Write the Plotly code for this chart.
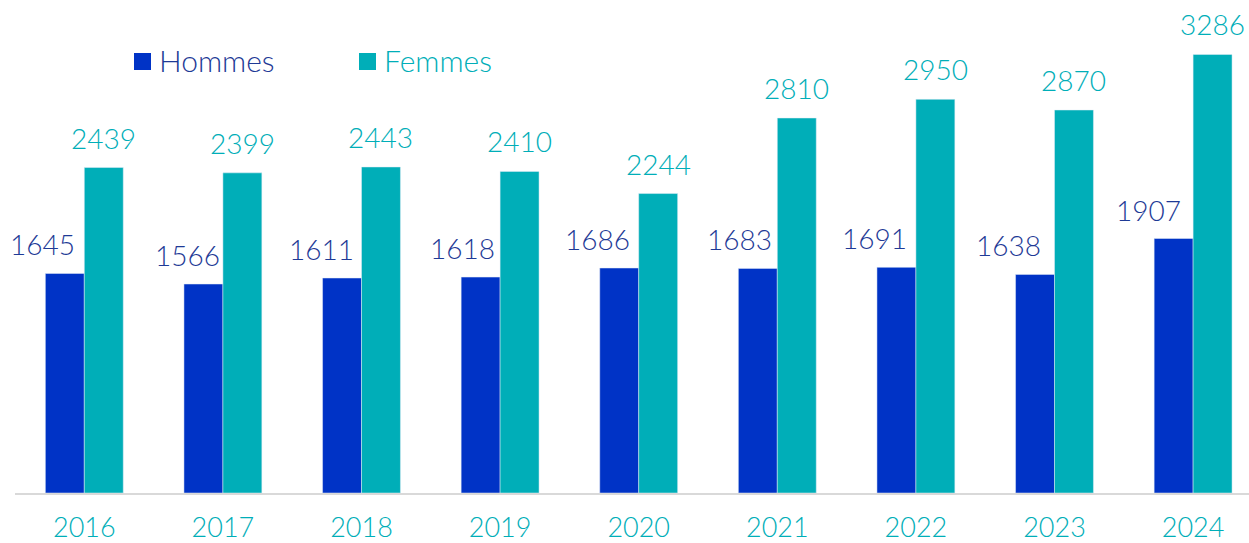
import plotly.graph_objects as go

# ---- data ----
years = ["2016", "2017", "2018", "2019", "2020", "2021", "2022", "2023", "2024"]
hommes = [1645, 1566, 1611, 1618, 1686, 1683, 1691, 1638, 1907]
femmes = [2439, 2399, 2443, 2410, 2244, 2810, 2950, 2870, 3286]

# ---- style ----
C_H = "#0033C6"
C_F = "#00AEB8"
C_H_TXT = "#1E3A96"
FONT = "Lato"
WEIGHT = 300
BAR_W = 0.281
H_LABEL_XSHIFT = [-22, -15.5, -21, -18, -22, -18.5, -21.5, -26.5, -25.5]

W, H = 1249, 543
ML, MR, MT, MB = 15, 0, 0, 50
PW, PH = W - ML - MR, H - MT - MB

xs = list(range(len(years)))

fig = go.Figure()
fig.add_trace(go.Bar(x=xs, y=hommes, name="Hommes", marker_color=C_H,
                     width=BAR_W, offset=-BAR_W, showlegend=False, hoverinfo="skip"))
fig.add_trace(go.Bar(x=xs, y=femmes, name="Femmes", marker_color=C_F,
                     width=BAR_W, offset=0, showlegend=False, hoverinfo="skip"))

ann = []
for i, v in enumerate(hommes):
    ann.append(dict(x=i - BAR_W / 2, y=v, xref="x", yref="y", text=str(v),
                    showarrow=False, xshift=H_LABEL_XSHIFT[i], yshift=29,
                    yanchor="middle",
                    font=dict(family=FONT, size=28, color=C_H_TXT, weight=WEIGHT)))
for i, v in enumerate(femmes):
    ann.append(dict(x=i + BAR_W / 2, y=v, xref="x", yref="y", text=str(v),
                    showarrow=False, yshift=30, yanchor="middle",
                    font=dict(family=FONT, size=28, color=C_F, weight=WEIGHT)))

# manual legend (pixel positions converted to paper coords)
def px(xp):
    return (xp - ML) / PW
def py(yp):
    return 1 - (yp - MT) / PH

shapes = []
legend_items = [("Hommes", C_H, C_H_TXT, 134), ("Femmes", C_F, C_F, 359)]
for name, col, tcol, x0 in legend_items:
    shapes.append(dict(type="rect", xref="paper", yref="paper",
                       x0=px(x0), x1=px(x0 + 17), y0=py(70), y1=py(53),
                       fillcolor=col, line=dict(width=0)))
    ann.append(dict(x=px(x0 + 23), y=py(60), xref="paper", yref="paper",
                    text=name, showarrow=False, xanchor="left", yanchor="middle",
                    font=dict(family=FONT, size=30, color=tcol, weight=WEIGHT)))

fig.update_layout(
    width=W, height=H,
    margin=dict(l=ML, r=MR, t=MT, b=MB),
    paper_bgcolor="white", plot_bgcolor="white",
    barmode="overlay",
    annotations=ann, shapes=shapes,
    xaxis=dict(range=[-0.5, -0.5 + PW / 138.6], tickvals=xs, ticktext=years,
               showgrid=False, zeroline=False, showline=True, automargin=False,
               linecolor="#D9D9D9", linewidth=1.5,
               ticks="outside", ticklen=10, tickcolor="rgba(0,0,0,0)",
               tickfont=dict(family=FONT, size=27, color=C_F, weight=WEIGHT)),
    yaxis=dict(range=[0, PH / 0.13345], visible=False, showgrid=False,
               zeroline=False, automargin=False),
)

fig.write_html("out.html", config={"displayModeBar": False},
               post_script="document.body.style.margin='0';document.body.style.overflow='hidden';")
